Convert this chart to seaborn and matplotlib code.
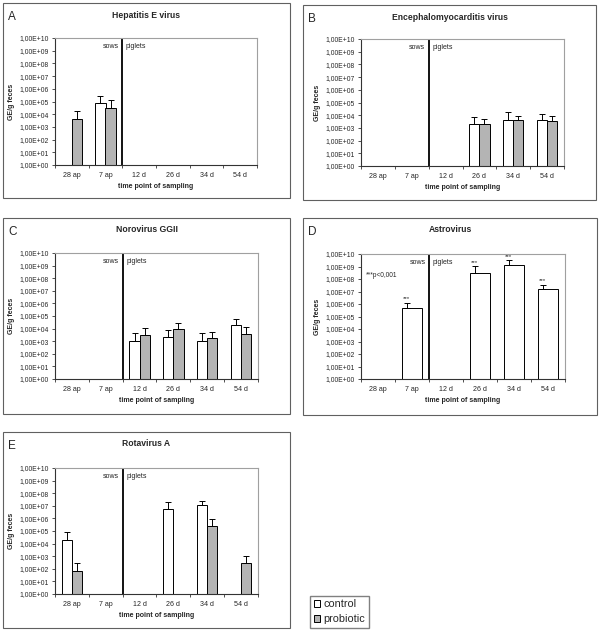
import numpy as np
import pandas as pd
import matplotlib
matplotlib.use('Agg')
import matplotlib.pyplot as plt
import seaborn as sns
from matplotlib.patches import Rectangle, Patch
from matplotlib.ticker import NullLocator, FixedLocator

sns.set_style('white')
plt.rcParams['font.family'] = ['Liberation Sans', 'DejaVu Sans']

timepoints = ['28 ap', '7 ap', '12 d', '26 d', '34 d', '54 d']
groups = ['control', 'probiotic']
nan = np.nan

# mean GE/g feces and upper SD, nan = not detected
hev_ctrl = [nan, 7.0e4, nan, nan, nan, nan]
hev_ctrl_sd = [nan, 1.9e5, nan, nan, nan, nan]
hev_prob = [4.2e3, 3.2e4, nan, nan, nan, nan]
hev_prob_sd = [1.3e4, 9.8e4, nan, nan, nan, nan]

emcv_ctrl = [nan, nan, nan, 2.0e3, 4.4e3, 4.4e3]
emcv_ctrl_sd = [nan, nan, nan, 5.6e3, 1.26e4, 7.1e3]
emcv_prob = [nan, nan, nan, 2.0e3, 4.4e3, 3.5e3]
emcv_prob_sd = [nan, nan, nan, 3.3e3, 4.7e3, 5.6e3]

noro_ctrl = [nan, nan, 1.07e3, 2.2e3, 1.07e3, 1.9e4]
noro_ctrl_sd = [nan, nan, 3.2e3, 5.1e3, 3.2e3, 4.1e4]
noro_prob = [nan, nan, 3.2e3, 9.3e3, 1.7e3, 3.8e3]
noro_prob_sd = [nan, nan, 7.8e3, 1.8e4, 3.7e3, 9.2e3]

astro_ctrl = [nan, 4.5e5, nan, 3.2e8, 1.37e9, 1.5e7]
astro_ctrl_sd = [nan, 8.5e5, nan, 7.5e8, 1.8e9, 2.0e7]
astro_prob = [nan, nan, nan, nan, nan, nan]
astro_prob_sd = [nan, nan, nan, nan, nan, nan]

rota_ctrl = [2.1e4, nan, nan, 5.4e6, 1.1e7, nan]
rota_ctrl_sd = [6.9e4, nan, nan, 1.4e7, 1.4e7, nan]
rota_prob = [71, nan, nan, nan, 2.3e5, 290]
rota_prob_sd = [240, nan, nan, nan, 6.1e5, 710]

W, H = 600, 632
palette = {'control': 'white', 'probiotic': '#b4b4b4'}

fig = plt.figure(figsize=(W / 100, H / 100), dpi=100)


def box(x0, y0, x1, y1):
    return [x0 / W, 1 - y1 / H, (x1 - x0) / W, (y1 - y0) / H]


def panel(plot_px, frame_px, letter, title, ctrl, ctrl_sd, prob, prob_sd, stars=False):
    fx0, fy0, fx1, fy1 = frame_px
    fig.add_artist(Rectangle((fx0 / W, 1 - fy1 / H), (fx1 - fx0) / W, (fy1 - fy0) / H,
                             transform=fig.transFigure, fill=False,
                             edgecolor='#606060', lw=0.8))
    fig.text((fx0 + 5) / W, 1 - (fy0 + 14) / H, letter, fontsize=8.5, va='center')
    fig.text((fx0 + fx1) / 2 / W, 1 - (fy0 + 12) / H, title, fontsize=6.2,
             fontweight='bold', ha='center', va='center')

    ax = fig.add_axes(box(*plot_px))
    df = pd.DataFrame({
        'time': timepoints * 2,
        'group': ['control'] * 6 + ['probiotic'] * 6,
        'value': list(ctrl) + list(prob),
    }).dropna()
    sns.barplot(data=df, x='time', y='value', hue='group', order=timepoints,
                hue_order=groups, palette=palette, edgecolor='black', linewidth=0.7,
                width=0.6, errorbar=None, legend=False, ax=ax)

    # upward-only error bars
    for vals, sds, off in [(ctrl, ctrl_sd, -0.15), (prob, prob_sd, 0.15)]:
        for i, (v, s) in enumerate(zip(vals, sds)):
            if np.isnan(v):
                continue
            ax.errorbar(i + off, v, yerr=[[0], [s]], fmt='none', ecolor='black',
                        elinewidth=0.7, capsize=2, capthick=0.7)
            if stars and off < 0:
                ax.text(i + off, (v + s) * 1.25, '***', ha='center', va='bottom',
                        fontsize=4.5)

    ax.set_yscale('log')
    ax.set_ylim(1, 1e10)
    ax.set_xlim(-0.5, 5.5)
    ax.yaxis.set_major_locator(FixedLocator([10.0 ** k for k in range(11)]))
    ax.yaxis.set_minor_locator(NullLocator())
    ax.set_yticklabels([f'1,00E+{k:02d}' for k in range(11)])
    ax.set_xticks(range(6))
    ax.set_xticklabels(timepoints)
    ax.set_xticks(np.arange(-0.5, 6), minor=True)
    ax.tick_params(axis='y', which='major', length=2.5, width=0.6, pad=2,
                   labelsize=4.9, left=True, color='#333333')
    ax.tick_params(axis='x', which='major', length=0, pad=5, labelsize=5.1)
    ax.tick_params(axis='x', which='minor', length=2.5, width=0.6, bottom=True,
                   color='#333333')
    ax.set_ylabel('GE/g feces', fontsize=5, fontweight='bold')
    ax.yaxis.set_label_coords(-40 / 202, 0.5)
    ax.set_xlabel('time point of sampling', fontsize=5, fontweight='bold', labelpad=3)
    for side in ['left', 'bottom']:
        ax.spines[side].set_color('#333333')
        ax.spines[side].set_linewidth(0.8)
    for side in ['top', 'right']:
        ax.spines[side].set_color('#a0a0a0')
        ax.spines[side].set_linewidth(0.8)
    ax.set_facecolor('white')

    ax.axvline(1.5, color='black', lw=1.3)
    tr = ax.get_xaxis_transform()
    ax.text(1.4, 0.93, 'sows', transform=tr, ha='right', va='center', fontsize=5)
    ax.text(1.6, 0.93, 'piglets', transform=tr, ha='left', va='center', fontsize=5)
    return ax


panel((55, 38, 257, 165), (3, 3, 290, 198), 'A', 'Hepatitis E virus',
      hev_ctrl, hev_ctrl_sd, hev_prob, hev_prob_sd)
panel((361, 39, 564, 166), (303, 5, 596, 200), 'B', 'Encephalomyocarditis virus',
      emcv_ctrl, emcv_ctrl_sd, emcv_prob, emcv_prob_sd)
panel((55, 253, 258, 379), (3, 218, 290, 414), 'C', 'Norovirus GGII',
      noro_ctrl, noro_ctrl_sd, noro_prob, noro_prob_sd)
axd = panel((361, 254, 565, 379), (303, 218, 597, 415), 'D', 'Astrovirus',
            astro_ctrl, astro_ctrl_sd, astro_prob, astro_prob_sd, stars=True)
axd.text(-0.37, 0.83, '***p<0,001', transform=axd.get_xaxis_transform(),
         ha='left', va='center', fontsize=4.7)
panel((55, 468, 258, 594), (3, 432, 290, 628), 'E', 'Rotavirus A',
      rota_ctrl, rota_ctrl_sd, rota_prob, rota_prob_sd)

handles = [Patch(facecolor=palette[g], edgecolor='black', lw=0.7) for g in groups]
fig.legend(handles=handles, labels=groups, loc='lower left',
           bbox_to_anchor=(310 / W, 1 - 628 / H), fontsize=7.8, frameon=True,
           fancybox=False, edgecolor='#606060', handlelength=0.6, handleheight=0.6,
           handletextpad=0.3, borderpad=0.35, labelspacing=0.45, borderaxespad=0)

fig.savefig('out.png', dpi=100)
